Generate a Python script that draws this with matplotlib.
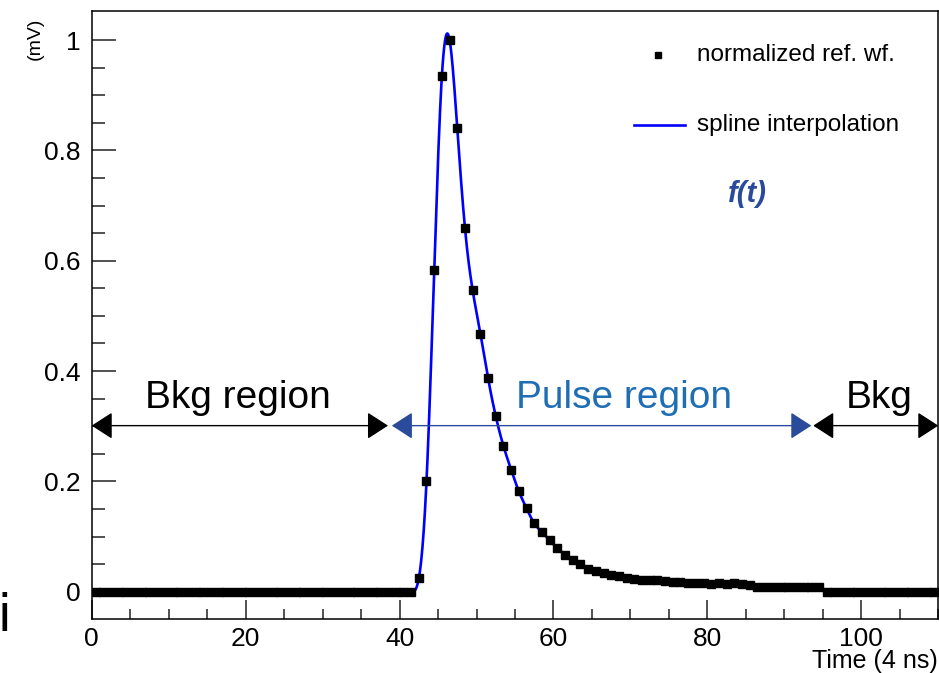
# Normalized reference waveform with spline interpolation
import numpy as np
import matplotlib.pyplot as plt

plt.rcParams['font.family'] = ['Liberation Sans', 'DejaVu Sans']

# bin centres (4 ns per bin) and normalized amplitude (mV)
time_bins = np.arange(110) + 0.5
pulse = [0.0] * 42 + [
    0.024, 0.200, 0.583, 0.935, 1.000, 0.840, 0.659, 0.546, 0.468, 0.387,
    0.318, 0.264, 0.221, 0.182, 0.151, 0.124, 0.108, 0.093, 0.079, 0.067,
    0.058, 0.050, 0.042, 0.037, 0.033, 0.031, 0.028, 0.024, 0.023, 0.021,
    0.021, 0.021, 0.019, 0.018, 0.018, 0.016, 0.016, 0.015, 0.014, 0.015,
    0.014, 0.015, 0.014, 0.012, 0.009, 0.008, 0.008, 0.008, 0.008, 0.008,
    0.008, 0.008, 0.008,
] + [0.0] * 15
pulse = np.array(pulse)

# region arrows: (start, end)
bkg_left = (0, 38.5)
pulse_win = (39.0, 93.5)
bkg_right = (93.75, 110)


def natural_spline(x, y, xs):
    # natural cubic spline through (x, y), evaluated at xs
    n = len(x)
    h = np.diff(x)
    A = np.zeros((n, n))
    r = np.zeros(n)
    A[0, 0] = A[-1, -1] = 1
    for i in range(1, n - 1):
        A[i, i - 1] = h[i - 1]
        A[i, i] = 2 * (h[i - 1] + h[i])
        A[i, i + 1] = h[i]
        r[i] = 6 * ((y[i + 1] - y[i]) / h[i] - (y[i] - y[i - 1]) / h[i - 1])
    M = np.linalg.solve(A, r)
    k = np.clip(np.searchsorted(x, xs) - 1, 0, n - 2)
    dx1 = x[k + 1] - xs
    dx0 = xs - x[k]
    hk = h[k]
    return (M[k] * dx1**3 / (6 * hk) + M[k + 1] * dx0**3 / (6 * hk)
            + (y[k] / hk - M[k] * hk / 6) * dx1
            + (y[k + 1] / hk - M[k + 1] * hk / 6) * dx0)


fig = plt.figure(figsize=(9.39, 6.73), dpi=100)
ax = fig.add_axes([91.7 / 939, 54 / 673, 846.6 / 939, 608 / 673])

xs = np.linspace(time_bins[0], time_bins[-1], 2000)
ax.plot(xs, natural_spline(time_bins, pulse, xs), color='#0000ff', lw=1.9, zorder=2)
ax.plot(time_bins, pulse, 's', color='black', ms=5.2, zorder=3)

ax.set_xlim(0, 110)
ax.set_ylim(-0.0495, 1.0526)
ax.set_xticks([0, 20, 40, 60, 80, 100])
ax.set_xticks(np.arange(0, 111, 5), minor=True)
ax.set_yticks([0, 0.2, 0.4, 0.6, 0.8, 1.0])
ax.set_yticklabels(['0', '0.2', '0.4', '0.6', '0.8', '1'])
ax.set_yticks(np.arange(0, 1.05, 0.05), minor=True)
ax.tick_params(which='both', direction='in', labelsize=19, width=1.1, color='#222222')
ax.tick_params(axis='x', which='major', length=14, pad=6)
ax.tick_params(axis='x', which='minor', length=7)
ax.tick_params(axis='y', which='major', length=17, pad=8)
ax.tick_params(axis='y', which='minor', length=9)
for s in ax.spines.values():
    s.set_linewidth(1.1)

# region arrows
def arrow(x0, x1, col, lw):
    ax.annotate('', xy=(x1, 0.301), xytext=(x0, 0.301),
                arrowprops=dict(arrowstyle='<|-|>,head_length=0.65,head_width=0.42',
                                mutation_scale=20, color=col, lw=lw,
                                shrinkA=0, shrinkB=0),
                annotation_clip=False, zorder=4)

arrow(*bkg_left, 'black', 1.0)
arrow(*pulse_win, '#2a4b9b', 1.0)
arrow(*bkg_right, 'black', 1.0)

ax.text(19.0, 0.333, 'Bkg region', fontsize=28, ha='center', va='baseline')
ax.text(69.2, 0.333, 'Pulse region', fontsize=28, ha='center', va='baseline',
        color='#1f6eb4')
ax.text(102.3, 0.333, 'Bkg', fontsize=28, ha='center', va='baseline')
ax.text(85.2, 0.72, 'f(t)', fontsize=21, ha='center', va='center',
        color='#2a4b9b', fontweight='bold', fontstyle='italic')

# legend drawn by hand
ax.plot([73.6], [0.972], 's', color='black', ms=4)
ax.text(78.7, 0.972, 'normalized ref. wf.', fontsize=17.5, va='center')
ax.plot([70.5, 77.1], [0.846, 0.846], color='#0000ff', lw=1.9)
ax.text(78.7, 0.846, 'spline interpolation', fontsize=17.5, va='center')

fig.text(938 / 939, 1 - 668 / 673, 'Time (4 ns)', fontsize=18, ha='right', va='baseline')
fig.text(35 / 939, 1 - 18 / 673, '(mV)', fontsize=14, ha='center', va='top', rotation=90)
fig.text(-1 / 939, 1 - 631 / 673, 'i', fontsize=38, ha='left', va='baseline')

fig.savefig('out.png', dpi=100)
